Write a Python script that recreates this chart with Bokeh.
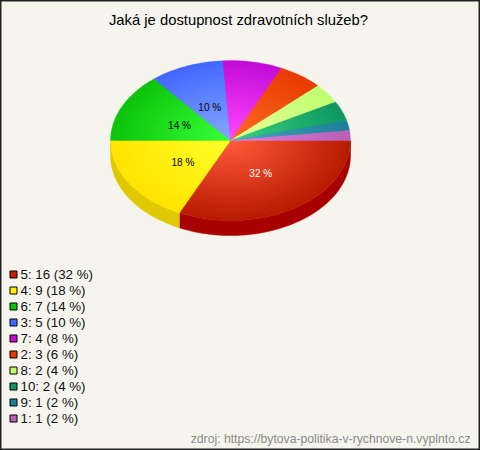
import math
from bokeh.plotting import figure
from bokeh.models import Range1d
from bokeh.core.properties import value
from bokeh.embed import file_html
from bokeh.resources import INLINE

title = "Jaká je dostupnost zdravotních služeb?"
source_note = "zdroj: https://bytova-politika-v-rychnove-n.vyplnto.cz"
categories = ["5", "4", "6", "3", "7", "2", "8", "10", "9", "1"]
counts = [16, 9, 7, 5, 4, 3, 2, 2, 1, 1]
percents = [32, 18, 14, 10, 8, 6, 4, 4, 2, 2]
legend_colors = ["#c81e00", "#ffee00", "#0cc40c", "#4468ff", "#c80cd8", "#e83c00", "#c0ff70", "#109860", "#1c7f98", "#b860b8"]
inner_colors = ["#ff5a3c", "#ffff28", "#38ff38", "#84a8ff", "#ff48ff", "#ff6a28", "#e8ff9a", "#38d080", "#4aa8c0", "#e080e0"]
rim_colors = ["#b81c00", "#ffe400", "#0cc40c", "#4468ff", "#c40cd8", "#e83c00", "#c0ff70", "#109860", "#1c7f98", "#b860b8"]
side_colors = ["#a80000", "#e0c800"]
BG = "#f5f5ee"

CX, CY, RX, RY, DEPTH = 230, 140, 120, 80, 15


def mix(a, b, t):
    pa = [int(a[i:i + 2], 16) for i in (1, 3, 5)]
    pb = [int(b[i:i + 2], 16) for i in (1, 3, 5)]
    return "#%02x%02x%02x" % tuple(round(u + (v - u) * t) for u, v in zip(pa, pb))


def arc(a0, a1, r=1.0, dy=0.0):
    n = max(2, int(abs(a1 - a0) / 2) + 1)
    angs = [math.radians(a0 + (a1 - a0) * i / (n - 1)) for i in range(n)]
    return [CX + RX * r * math.cos(t) for t in angs], [CY + dy + RY * r * math.sin(t) for t in angs]


total = sum(counts)
edges = [0.0]
for c in counts:
    edges.append(edges[-1] + 360.0 * c / total)

p = figure(width=480, height=450, x_range=Range1d(0, 480), y_range=Range1d(450, 0),
           output_backend="svg", toolbar_location=None, min_border=0,
           background_fill_color=BG, border_fill_color=BG,
           outline_line_color="#222222", outline_line_width=2)
p.axis.visible = False
p.grid.visible = False

# side wall
sx, sy, sc = [], [], []
for i, col in enumerate(side_colors):
    x0, y0 = arc(edges[i], edges[i + 1])
    x1, y1 = arc(edges[i + 1], edges[i], dy=DEPTH)
    sx.append(x0 + x1)
    sy.append(y0 + y1)
    sc.append(col)
p.patches(sx, sy, fill_color=sc, line_color=sc, line_width=0.5)

# top face with radial shading
RINGS = 28
xs, ys, cs = [], [], []
for k in range(RINGS):
    r = 1.0 - k / RINGS
    t = (k / (RINGS - 1))
    for i in range(len(counts)):
        ax, ay = arc(edges[i], edges[i + 1], r=r)
        xs.append([CX] + ax)
        ys.append([CY] + ay)
        cs.append(mix(rim_colors[i], inner_colors[i], t))
p.patches(xs, ys, fill_color=cs, line_color=cs, line_width=0.3)

# slice labels
lx, ly, lt, lc = [], [], [], []
for i, pct in enumerate(percents):
    if pct >= 10:
        m = math.radians((edges[i] + edges[i + 1]) / 2)
        lx.append(CX + RX * 0.47 * math.cos(m))
        ly.append(CY + 1.5 + RY * 0.47 * math.sin(m))
        lt.append(f"{pct} %")
        lc.append("#ffffff" if i == 0 else "#000000")
p.text(lx, ly, text=lt, text_color=lc, text_font=value("Liberation Sans"), text_font_size="10px",
       text_align="center", text_baseline="middle")

# title and source
p.text([238], [19], text=[title], text_color="#000000", text_font=value("Liberation Sans"),
       text_font_size="14.8px", text_align="center", text_baseline="middle")
p.text([470], [438], text=[source_note], text_color="#8a8a8a", text_font=value("Liberation Sans"),
       text_font_size="12.2px", text_align="right", text_baseline="middle")

# legend
rows = [274 + 16 * i for i in range(len(categories))]
p.rect([13] * len(rows), rows, width=7, height=7, fill_color=legend_colors, line_color="#000000", line_width=1)
labels = [f"{k}: {c} ({q} %)" for k, c, q in zip(categories, counts, percents)]
p.text([20] * len(rows), rows, text=labels, text_color="#111111", text_font=value("Liberation Sans"),
       text_font_size="13.3px", text_align="left", text_baseline="middle")

open("out.html", "w").write(file_html(p, INLINE))
